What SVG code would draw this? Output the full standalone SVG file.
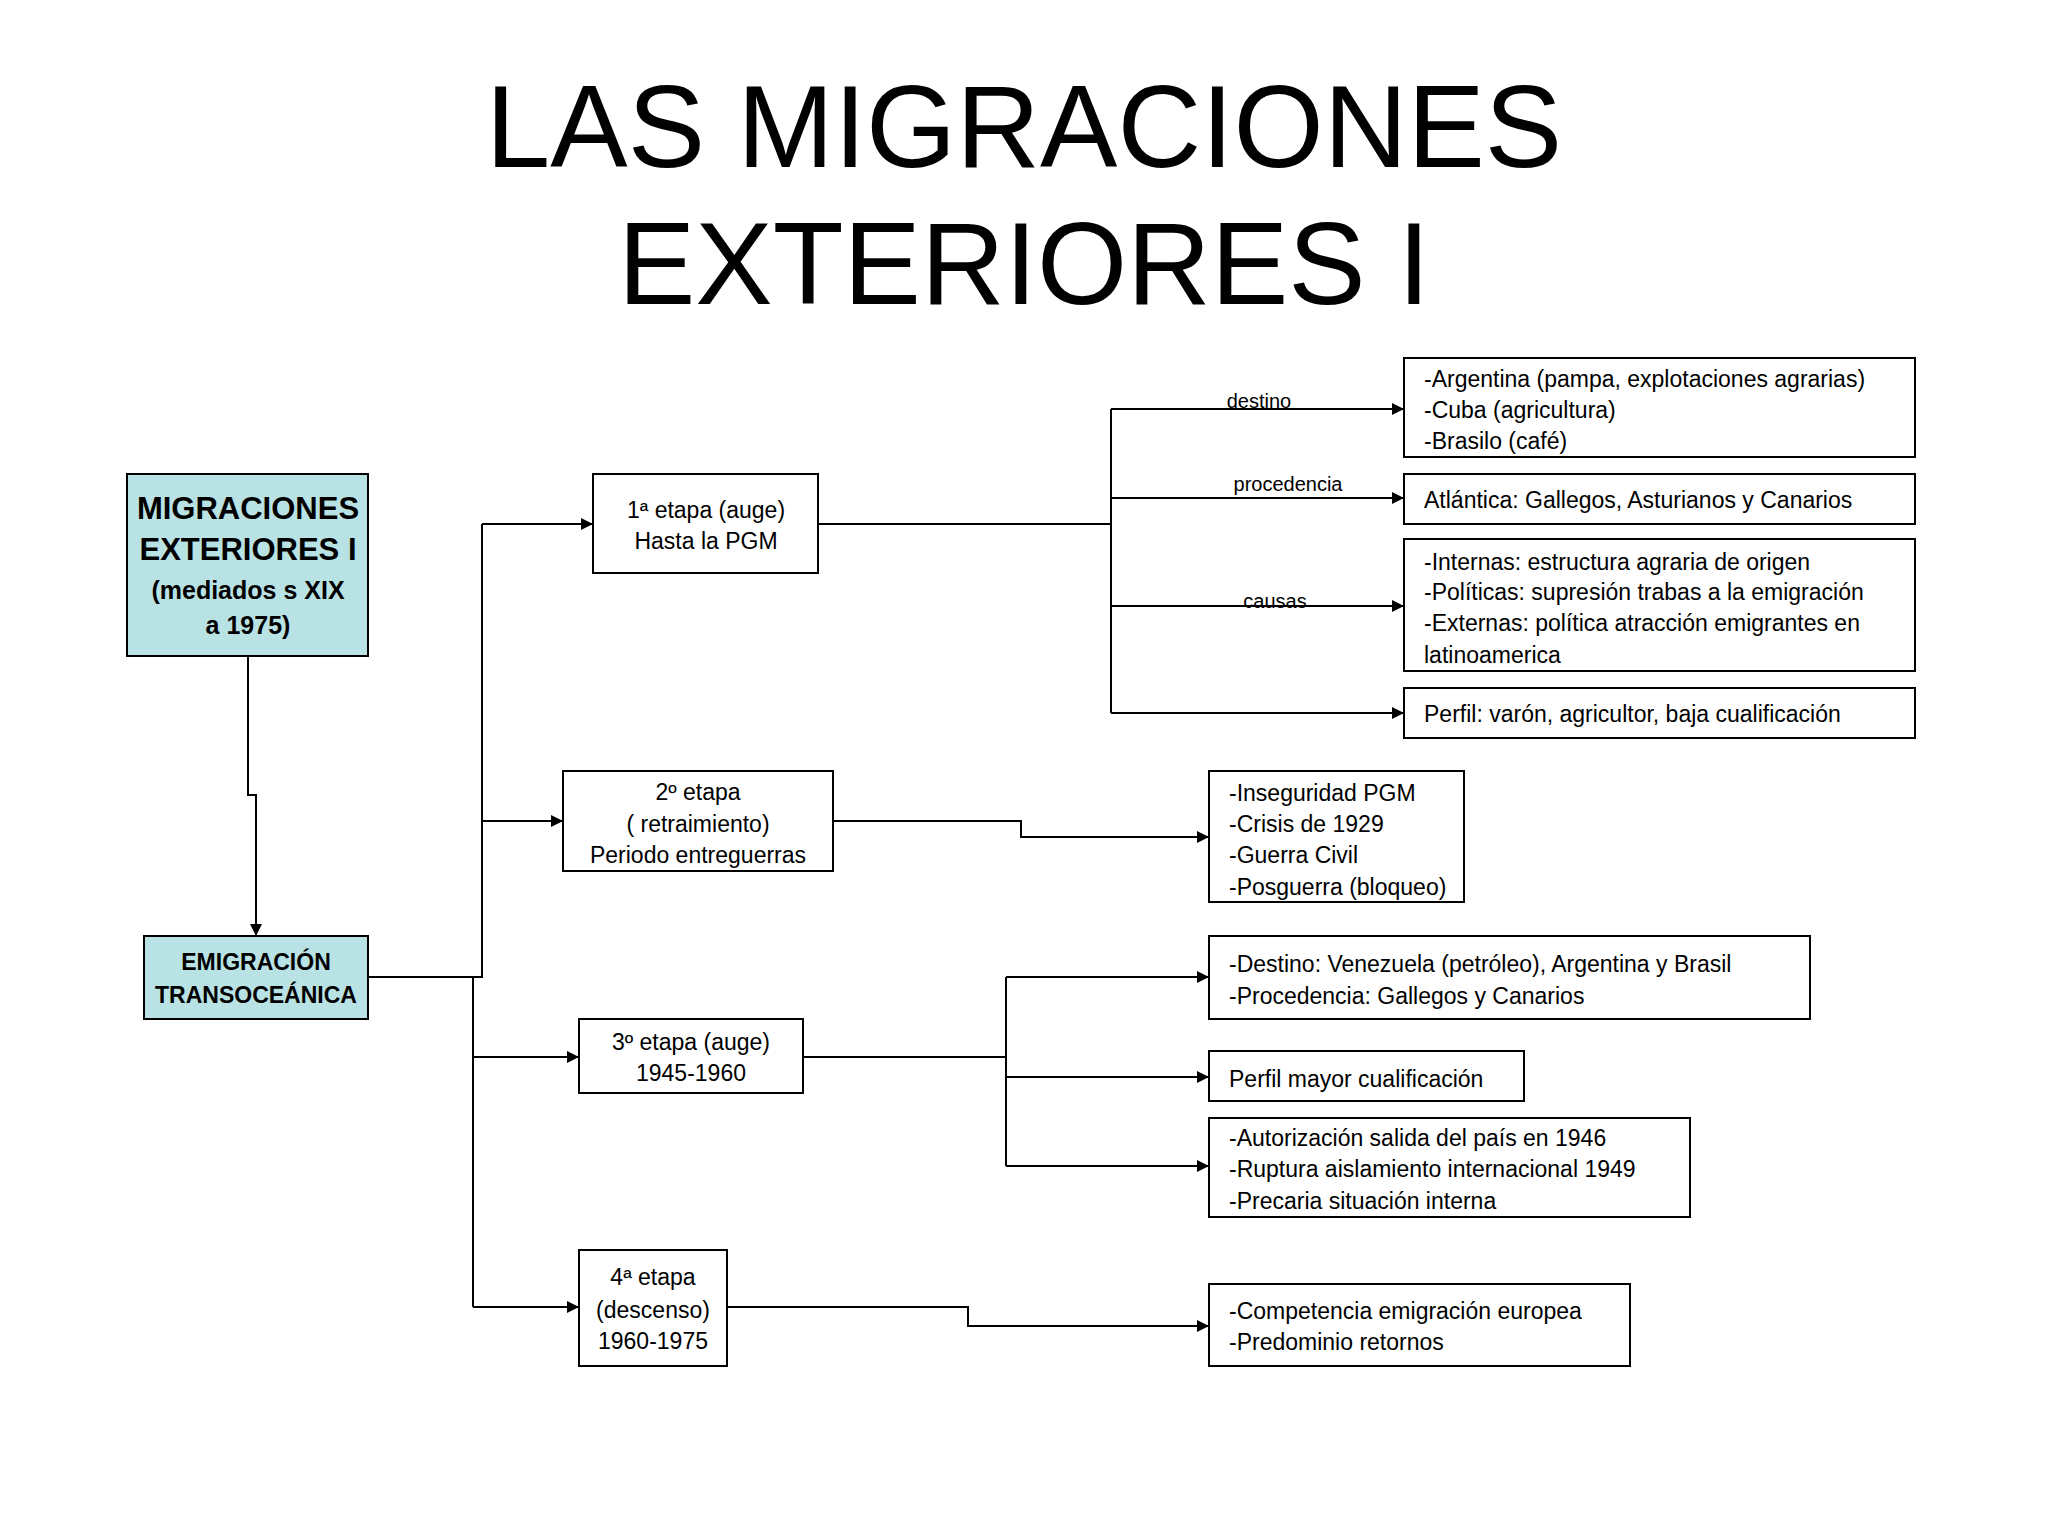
<svg xmlns="http://www.w3.org/2000/svg" width="2048" height="1536" viewBox="0 0 2048 1536">
<defs>
<marker id="a" viewBox="0 0 10 10" refX="10" refY="5" markerWidth="12" markerHeight="12" markerUnits="userSpaceOnUse" orient="auto"><path d="M0,0L10,5L0,10z" fill="#000"/></marker>
<style>
.b{fill:#fff;stroke:#000;stroke-width:2}
.h{fill:#b9e2e4;stroke:#000;stroke-width:2}
text{font-family:"Liberation Sans",Arial,sans-serif;fill:#000}
.t{font-size:23px}
.c{text-anchor:middle}
.l{font-size:20px}
#conn path{fill:none;stroke:#000;stroke-width:2}
.ar{marker-end:url(#a)}
</style>
</defs>
<rect width="2048" height="1536" fill="#fff"/>
<text x="1024" y="167" text-anchor="middle" font-size="116">LAS MIGRACIONES</text>
<text x="1024" y="304" text-anchor="middle" font-size="116">EXTERIORES I</text>
<g id="conn">
<path class="ar" d="M248,656V795H256V936"/>
<path d="M368,977H482V524"/>
<path class="ar" d="M482,524H593"/>
<path class="ar" d="M482,821H563"/>
<path d="M473,977V1307"/>
<path class="ar" d="M473,1057H579"/>
<path class="ar" d="M473,1307H579"/>
<path d="M818,524H1111M1111,409V713"/>
<path class="ar" d="M1111,409H1404"/>
<path class="ar" d="M1111,498H1404"/>
<path class="ar" d="M1111,606H1404"/>
<path class="ar" d="M1111,713H1404"/>
<path class="ar" d="M833,821H1021V837H1209"/>
<path d="M803,1057H1006M1006,977V1166"/>
<path class="ar" d="M1006,977H1209"/>
<path class="ar" d="M1006,1077H1209"/>
<path class="ar" d="M1006,1166H1209"/>
<path class="ar" d="M727,1307H968V1326H1209"/>
<text class="l c" x="1259" y="408">destino</text>
<text class="l c" x="1288" y="491">procedencia</text>
<text class="l c" x="1275" y="608">causas</text>
</g>
<g id="main"><rect class="h" x="127" y="474" width="241" height="182"/>
<text class="c" x="248" y="519" font-size="31" font-weight="bold">MIGRACIONES</text>
<text class="c" x="248" y="560" font-size="31" font-weight="bold">EXTERIORES I</text>
<text class="c" x="248" y="599" font-size="25" font-weight="bold">(mediados s XIX</text>
<text class="c" x="248" y="634" font-size="25" font-weight="bold">a 1975)</text></g>
<g id="emig"><rect class="h" x="144" y="936" width="224" height="83"/>
<text class="c" x="256" y="970" font-size="23" font-weight="bold">EMIGRACIÓN</text>
<text class="c" x="256" y="1003" font-size="23" font-weight="bold">TRANSOCEÁNICA</text></g>
<g id="e1"><rect class="b" x="593" y="474" width="225" height="99"/>
<text class="t c" x="706" y="518">1ª etapa (auge)</text><text class="t c" x="706" y="549">Hasta la PGM</text></g>
<g id="e2"><rect class="b" x="563" y="771" width="270" height="100"/>
<text class="t c" x="698" y="800">2º etapa</text><text class="t c" x="698" y="832">( retraimiento)</text><text class="t c" x="698" y="863">Periodo entreguerras</text></g>
<g id="e3"><rect class="b" x="579" y="1019" width="224" height="74"/>
<text class="t c" x="691" y="1050">3º etapa (auge)</text><text class="t c" x="691" y="1081">1945-1960</text></g>
<g id="e4"><rect class="b" x="579" y="1250" width="148" height="116"/>
<text class="t c" x="653" y="1285">4ª etapa</text><text class="t c" x="653" y="1318">(descenso)</text><text class="t c" x="653" y="1349">1960-1975</text></g>
<g id="dest1"><rect class="b" x="1404" y="358" width="511" height="99"/>
<text class="t" x="1424" y="387">-Argentina (pampa, explotaciones agrarias)</text><text class="t" x="1424" y="418">-Cuba (agricultura)</text><text class="t" x="1424" y="449">-Brasilo (café)</text></g>
<g id="proc1"><rect class="b" x="1404" y="474" width="511" height="50"/>
<text class="t" x="1424" y="508">Atlántica: Gallegos, Asturianos y Canarios</text></g>
<g id="caus1"><rect class="b" x="1404" y="539" width="511" height="132"/>
<text class="t" x="1424" y="570">-Internas: estructura agraria de origen</text><text class="t" x="1424" y="600">-Políticas: supresión trabas a la emigración</text><text class="t" x="1424" y="631">-Externas: política atracción emigrantes en</text><text class="t" x="1424" y="663">latinoamerica</text></g>
<g id="perf1"><rect class="b" x="1404" y="688" width="511" height="50"/>
<text class="t" x="1424" y="722">Perfil: varón, agricultor, baja cualificación</text></g>
<g id="c2"><rect class="b" x="1209" y="771" width="255" height="131"/>
<text class="t" x="1229" y="801">-Inseguridad PGM</text><text class="t" x="1229" y="832">-Crisis de 1929</text><text class="t" x="1229" y="863">-Guerra Civil</text><text class="t" x="1229" y="895">-Posguerra (bloqueo)</text></g>
<g id="d3"><rect class="b" x="1209" y="936" width="601" height="83"/>
<text class="t" x="1229" y="972">-Destino: Venezuela (petróleo), Argentina y Brasil</text><text class="t" x="1229" y="1004">-Procedencia: Gallegos y Canarios</text></g>
<g id="p3"><rect class="b" x="1209" y="1051" width="315" height="50"/>
<text class="t" x="1229" y="1087">Perfil mayor cualificación</text></g>
<g id="c3"><rect class="b" x="1209" y="1118" width="481" height="99"/>
<text class="t" x="1229" y="1146">-Autorización salida del país en 1946</text><text class="t" x="1229" y="1177">-Ruptura aislamiento internacional 1949</text><text class="t" x="1229" y="1209">-Precaria situación interna</text></g>
<g id="c4"><rect class="b" x="1209" y="1284" width="421" height="82"/>
<text class="t" x="1229" y="1319">-Competencia emigración europea</text><text class="t" x="1229" y="1350">-Predominio retornos</text></g>
</svg>
